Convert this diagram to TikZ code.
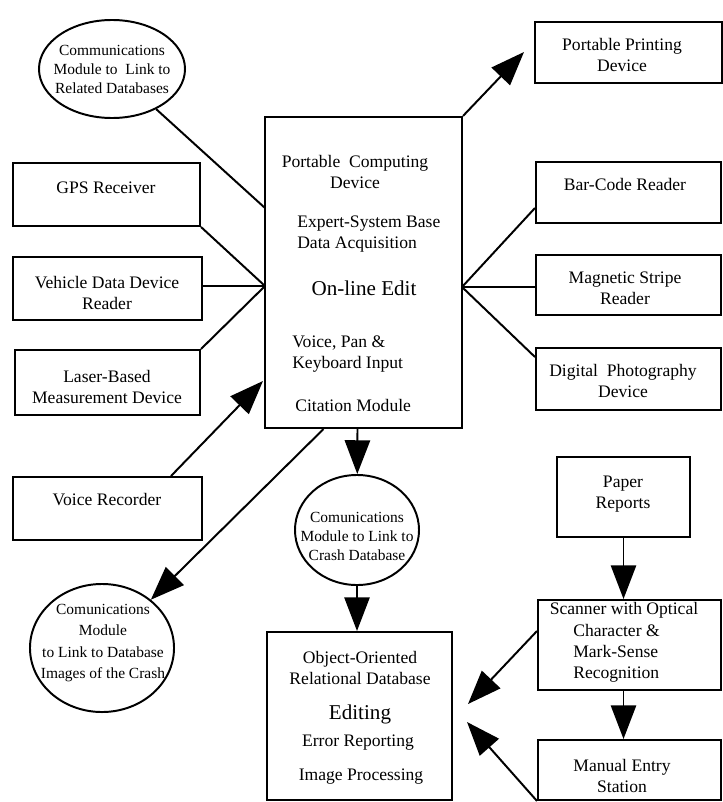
\documentclass[tikz,border=0pt]{standalone}
\usepackage{fontspec}
\setmainfont{Liberation Serif}
\usetikzlibrary{positioning, calc, arrows.meta, shapes.geometric}

\tikzset{
  dev/.style={draw, line width=1.4pt, rectangle, inner sep=0pt},
  bubble/.style={draw, line width=1.4pt, ellipse, inner sep=0pt},
  ptext/.style={align=center, inner sep=0pt, font=\fontsize{12.5}{15}\selectfont},
  ltext/.style={align=left, anchor=west, inner sep=0pt, font=\fontsize{12.5}{15}\selectfont},
  btext/.style={align=center, inner sep=0pt, font=\fontsize{11}{13.5}\selectfont},
  bigtext/.style={inner sep=0pt, font=\fontsize{15}{17}\selectfont},
  link/.style={line width=1.4pt},
  feed/.style={line width=1.4pt, -{Triangle[length=24pt, width=18pt]}},
}

\begin{document}
\begin{tikzpicture}[x=0.025cm, y=-0.025cm]
            \useasboundingbox (0,0) rectangle (723,802);
            % centre column
            \node[dev, minimum width=4.925cm, minimum height=7.775cm] (pcd) at (363.5,272.5) {};
            \node[ptext] (pcdname) at (355,172) {Portable\ \ Computing\\Device};
            \node[ltext] (pcdexp) at (297,234) {Expert-System Base\\Data Acquisition};
            \node[bigtext] (pcdedit) at (364,288) {On-line Edit};
            \node[ltext] (pcdin) at (292,354) {Voice, Pan \&\\Keyboard Input};
            \node[ltext] (pcdcit) at (295,405) {Citation Module};
            \node[bubble, minimum width=3.1cm, minimum height=2.75cm] (crash) at (357,530) {};
            \node[btext] (crashtxt) at (357,536) {Comunications\\Module to Link to\\Crash Database};
            \node[dev, minimum width=4.625cm, minimum height=4.2cm] (db) at (359.5,716) {};
            \node[ptext] (dbname) at (360,668) {Object-Oriented\\Relational Database};
            \node[bigtext] (dbedit) at (360,714) {Editing};
            \node[ptext] (dberr) at (358,743) {Error Reporting};
            \node[ptext] (dbimg) at (361,777) {Image Processing};
            % left column
            \node[bubble, minimum width=3.65cm, minimum height=2.45cm] (reldb) at (112,69) {};
            \node[btext] (reldbtxt) at (112,69) {Communications\\Module to\ \ Link to\\Related Databases};
            \node[dev, minimum width=4.675cm, minimum height=1.575cm] (gps) at (106.5,194.5) {};
            \node[ptext] (gpstxt) at (106,188) {GPS Receiver};
            \node[dev, minimum width=4.725cm, minimum height=1.575cm] (vdr) at (107.5,288.5) {};
            \node[ptext] (vdrtxt) at (107,293) {Vehicle Data Device\\Reader};
            \node[dev, minimum width=4.625cm, minimum height=1.625cm] (laser) at (107.5,382.5) {};
            \node[ptext] (lasertxt) at (107,387) {Laser-Based\\Measurement Device};
            \node[dev, minimum width=4.725cm, minimum height=1.575cm] (voice) at (107.5,508.5) {};
            \node[ptext] (voicetxt) at (107,500) {Voice Recorder};
            \node[bubble, minimum width=3.6cm, minimum height=3.2cm] (imgdb) at (102,648) {};
            \node[btext, font=\fontsize{11}{15}\selectfont] (imgdbtxt) at (103,643) {Comunications\\Module\\to Link to Database\\Images of the Crash};
            % right column
            \node[dev, minimum width=4.675cm, minimum height=1.525cm] (printer) at (628.5,52.5) {};
            \node[ptext] (printertxt) at (622,55) {Portable Printing\\Device};
            \node[dev, minimum width=4.625cm, minimum height=1.525cm] (bar) at (628.5,192.5) {};
            \node[ptext] (bartxt) at (625,184) {Bar-Code Reader};
            \node[dev, minimum width=4.625cm, minimum height=1.5cm] (mag) at (628.5,285) {};
            \node[ptext] (magtxt) at (625,288) {Magnetic Stripe\\Reader};
            \node[dev, minimum width=4.625cm, minimum height=1.55cm] (photo) at (628.5,379) {};
            \node[ptext] (phototxt) at (623,381) {Digital\ \ Photography\\Device};
            \node[dev, minimum width=3.325cm, minimum height=2cm] (paper) at (623.5,497) {};
            \node[ptext] (papertxt) at (623,494) {Paper\\Reports};
            \node[dev, minimum width=4.575cm, minimum height=2.25cm] (scanner) at (629.5,645) {};
            \node[ptext] (scantop) at (624,610) {Scanner with Optical};
            \node[ltext] (scanrest) at (573,653) {Character \&\\Mark-Sense\\Recognition};
            \node[dev, minimum width=4.575cm, minimum height=1.5cm] (manual) at (629.5,770) {};
            \node[ptext] (manualtxt) at (622,776) {Manual Entry\\Station};
            % hubs and free ends
            \coordinate (lhub) at (265,286);
            \coordinate (rhub) at (462,287);
            \coordinate (pcdtop) at (265,208);
            \coordinate (voiceend) at (263,381);
            \coordinate (printend) at (524,52);
            \coordinate (dbend1) at ($(db.east)+(15,-12)$);
            \coordinate (dbend2) at ($(db.east)+(14,6)$);
            % connectors
            \draw[link] (reldb) -- (pcdtop);
            \draw[link] (gps.south east) -- (lhub);
            \draw[link] (vdr.east |- lhub) -- (lhub);
            \draw[link] (laser.north east) -- (lhub);
            \draw[feed] ($(voice.north east)+(-32,0)$) -- (voiceend);
            \draw[feed] (pcd.north east) -- (printend);
            \draw[link] (rhub) -- ($(bar.south west)+(0,-16)$);
            \draw[link] (rhub) -- (mag.west |- rhub);
            \draw[link] (rhub) -- ($(photo.north west)+(0,10)$);
            \draw[feed] ($(pcd.south)+(-6,0)$) -- (crash);
            \draw[feed] (crash.south) -- (crash.south |- db.north);
            \draw[feed] ($(pcd.south)+(-40,0)$) -- (imgdb);
            \draw[feed] (paper.south) -- (paper.south |- scanner.north);
            \draw[feed] (paper.south |- scanner.south) -- (paper.south |- manual.north);
            \draw[feed] ($(scanner.north west)+(0,32)$) -- (dbend1);
            \draw[feed] (manual.south west) -- (dbend2);
        \end{tikzpicture}
\end{document}
